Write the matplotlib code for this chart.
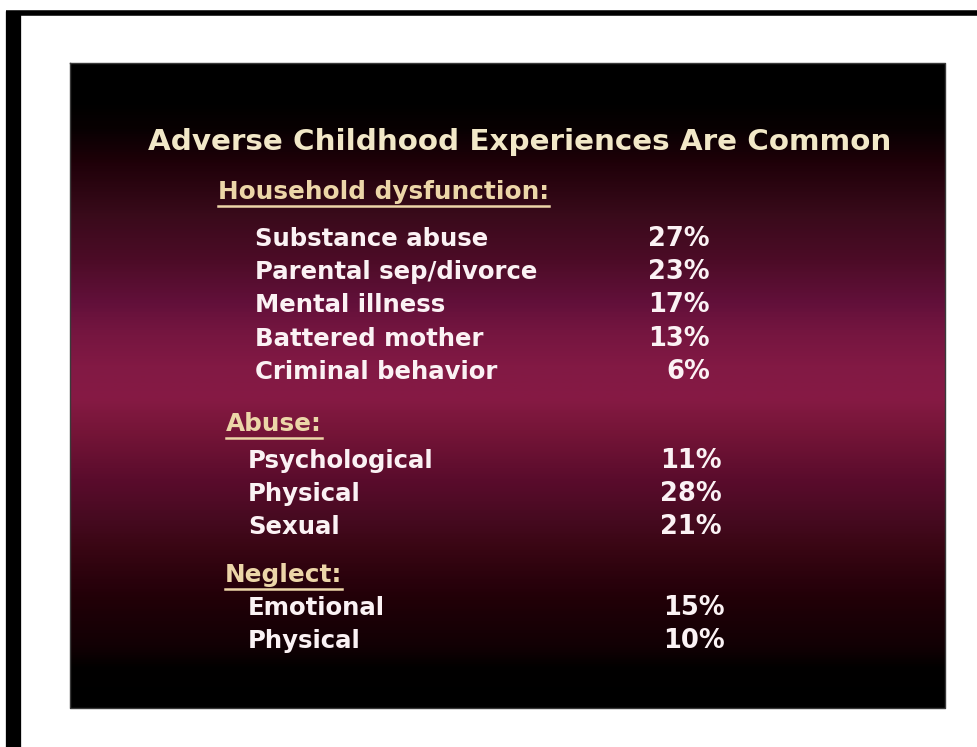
import numpy as np
import matplotlib
matplotlib.use("Agg")
import matplotlib.pyplot as plt
from matplotlib.colors import LinearSegmentedColormap

# slide content
title = "Adverse Childhood Experiences Are Common"
groups = ["Household dysfunction:", "Abuse:", "Neglect:"]
household_labels = ["Substance abuse", "Parental sep/divorce", "Mental illness",
                    "Battered mother", "Criminal behavior"]
household_values = [27, 23, 17, 13, 6]
abuse_labels = ["Psychological", "Physical", "Sexual"]
abuse_values = [11, 28, 21]
neglect_labels = ["Emotional", "Physical"]
neglect_values = [15, 10]

W, H = 978, 747
fig = plt.figure(figsize=(W / 100, H / 100), dpi=100)
ax = fig.add_axes([0, 0, 1, 1])
ax.set_xlim(0, W)
ax.set_ylim(H, 0)
ax.axis("off")

# frame lines of the scanned page
ax.plot([6, 978], [13, 13], color="black", lw=4, solid_capstyle="butt")
ax.plot([13, 13], [11, 747], color="black", lw=11, solid_capstyle="butt")

# slide background: vertical gradient black -> crimson -> black
x0, x1, y0, y1 = 70, 945, 63, 708
cmap = LinearSegmentedColormap.from_list("slide", [
    (0.00, "#000000"), (0.057, "#000000"), (0.10, "#080002"), (0.15, "#1e0008"),
    (0.23, "#380a1a"), (0.31, "#4e0c28"), (0.37, "#62103a"), (0.42, "#761640"),
    (0.47, "#821944"), (0.52, "#861a44"), (0.57, "#761538"), (0.647, "#5a0c2c"),
    (0.71, "#460a20"), (0.75, "#3a0614"), (0.83, "#220008"), (0.905, "#120004"),
    (0.94, "#020000"), (1.00, "#000000")])
grad = np.linspace(0, 1, 500).reshape(-1, 1)
ax.imshow(grad, cmap=cmap, aspect="auto", extent=(x0, x1, y1, y0),
          interpolation="bilinear", zorder=1)
ax.plot([x0, x1, x1, x0, x0], [y0, y0, y1, y1, y0], color="#3a3a3a", lw=1, zorder=2)

title_col = "#f2e8c8"
head_col = "#ecd6a8"
item_col = "#fbf2f4"
font = "DejaVu Sans"

ax.text(148, 142, title, fontsize=21.2, fontweight="bold", color=title_col,
        family=font, ha="left", va="center", zorder=3)


def heading(x, y, s):
    t = ax.text(x, y, s, fontsize=17.8, fontweight="bold", color=head_col,
                family=font, ha="left", va="center", zorder=3)
    fig.canvas.draw()
    bb = t.get_window_extent().transformed(ax.transData.inverted())
    ax.plot([bb.x0, bb.x1], [y + 14, y + 14], color=head_col, lw=1.8, zorder=3)


def rows(x_lab, x_val, y_start, labels, values):
    for i, (lab, v) in enumerate(zip(labels, values)):
        y = y_start + i * 33.2
        ax.text(x_lab, y, lab, fontsize=17.6, fontweight="bold", color=item_col,
                family=font, ha="left", va="center", zorder=3)
        ax.text(x_val, y, f"{v}%", fontsize=18.5, fontweight="bold", color=item_col,
                family=font, ha="right", va="center", zorder=3)


heading(218, 192, groups[0])
rows(255, 710, 239, household_labels, household_values)
heading(226, 424, groups[1])
rows(248, 722, 461, abuse_labels, abuse_values)
heading(225, 575, groups[2])
rows(248, 725, 608, neglect_labels, neglect_values)

fig.savefig("out.png", dpi=100, facecolor="white")
